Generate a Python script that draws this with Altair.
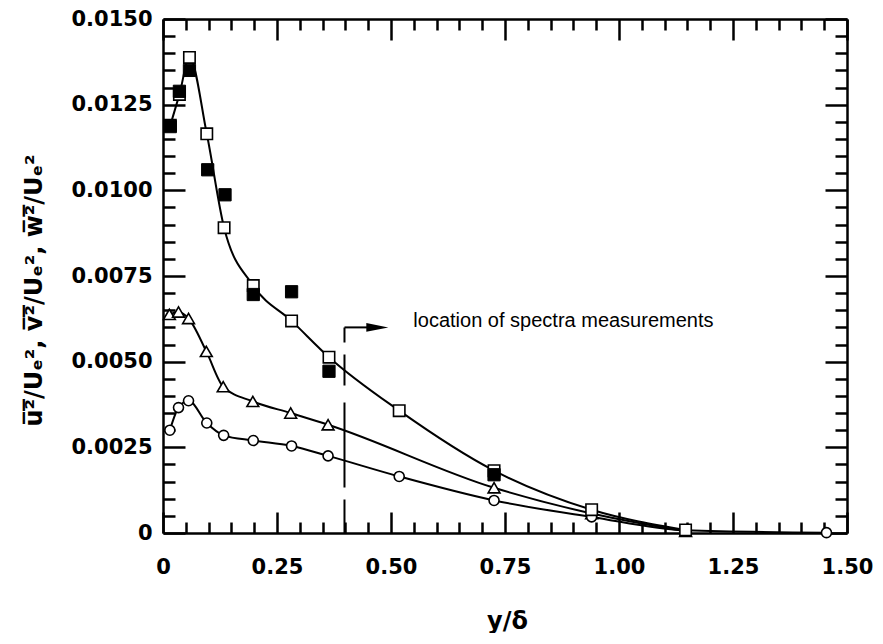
import altair as alt
import pandas as pd

# ---------------- data ----------------
# u'^2 / Ue^2  (open squares, curve)
u_open_x = [0.016, 0.036, 0.058, 0.096, 0.134, 0.198, 0.282, 0.364, 0.518, 0.726, 0.940, 1.146]
u_open_y = [0.01190, 0.01280, 0.01388, 0.01165, 0.00891, 0.00722, 0.00619, 0.00513, 0.00357, 0.00182, 0.00068, 0.00009]
# u'^2 / Ue^2  (filled squares)
u_fill_x = [0.016, 0.036, 0.058, 0.098, 0.136, 0.198, 0.282, 0.364, 0.726]
u_fill_y = [0.01186, 0.01289, 0.01350, 0.01060, 0.00987, 0.00696, 0.00704, 0.00472, 0.00170]
# triangles
w_x = [0.014, 0.034, 0.056, 0.095, 0.132, 0.197, 0.280, 0.362, 0.726, 0.940, 1.146]
w_y = [0.00638, 0.00645, 0.00626, 0.00530, 0.00427, 0.00384, 0.00350, 0.00316, 0.00132, 0.00057, 0.00005]
# circles
v_x = [0.015, 0.034, 0.056, 0.096, 0.133, 0.198, 0.282, 0.362, 0.518, 0.726, 0.940, 1.146, 1.455]
v_y = [0.00300, 0.00366, 0.00386, 0.00321, 0.00285, 0.00270, 0.00254, 0.00225, 0.00165, 0.00095, 0.00047, 0.00008, 0.00001]

# annotation
spectra_x = [0.398]
spectra_top = [0.0060]
arrow_end_x = [0.449]
arrow_head_x = [0.470]
note_x = [0.549]
note_text = ["location of spectra measurements"]

# axes
x_domain = [0, 1.5]
y_domain = [0, 0.015]
x_tick_values = [round(i * 0.05, 2) for i in range(31)]
y_tick_values = [round(i * 0.0005, 4) for i in range(31)]
x_title = "y/δ"
y_title = ("u\u0305\u00b2\u0305/U\u2091\u00b2, "
           "v\u0305\u00b2\u0305/U\u2091\u00b2, "
           "w\u0305\u00b2\u0305/U\u2091\u00b2")

# ---------------- tables ----------------
df_u = pd.DataFrame({"x": u_open_x, "y": u_open_y})
df_uf = pd.DataFrame({"x": u_fill_x, "y": u_fill_y})
df_w = pd.DataFrame({"x": w_x, "y": w_y})
df_v = pd.DataFrame({"x": v_x, "y": v_y})
df_dash = pd.DataFrame({"x": spectra_x, "y": spectra_top, "y2": [0.0]})
df_hor = pd.DataFrame({"x": spectra_x, "x2": arrow_end_x, "y": spectra_top})
df_head = pd.DataFrame({"x": arrow_head_x, "y": spectra_top})
df_note = pd.DataFrame({"x": note_x, "y": spectra_top, "t": note_text})

xs = alt.Scale(domain=x_domain, nice=False, zero=False)
ys = alt.Scale(domain=y_domain, nice=False, zero=False)

FONT = "DejaVu Sans"
x_major = "abs(datum.value*4 - round(datum.value*4)) < 0.001"
y_major = "abs(datum.value*400 - round(datum.value*400)) < 0.001"

common = dict(grid=False, domainColor="black", domainWidth=2.5, tickColor="black",
              tickWidth=2.5, labelFlush=False, labelOverlap=False)

x_bottom = alt.Axis(
    orient="bottom", values=x_tick_values,
    tickSize={"condition": {"test": x_major, "value": -21}, "value": -11},
    labelExpr=f"{x_major} ? (datum.value == 0 ? '0' : format(datum.value, '.2f')) : ''",
    labelFont=FONT, labelFontWeight="bold", labelFontSize=21, labelColor="black",
    labelPadding=44, title=x_title, titleFont=FONT, titleFontWeight="bold",
    titleFontSize=24, titleColor="black", titleX=344, titleY=95,
    titleBaseline="alphabetic", titleAlign="center", **common)
y_left = alt.Axis(
    orient="left", values=y_tick_values,
    tickSize={"condition": {"test": y_major, "value": -22}, "value": -12},
    labelExpr=f"{y_major} ? (datum.value == 0 ? '0' : format(datum.value, '.4f')) : ''",
    labelFont=FONT, labelFontWeight="bold", labelFontSize=21, labelColor="black",
    labelPadding=33, labelBaseline="middle", title=y_title, titleFont=FONT,
    titleFontWeight="bold", titleFontSize=24, titleColor="black", titleAngle=270,
    titleX=-129, titleY=271, titleBaseline="middle", titleAlign="center", **common)
x_top = alt.Axis(
    orient="top", values=x_tick_values,
    tickSize={"condition": {"test": x_major, "value": -21}, "value": -11},
    labels=False, title=None, **common)
y_right = alt.Axis(
    orient="right", values=y_tick_values,
    tickSize={"condition": {"test": y_major, "value": -22}, "value": -12},
    labels=False, title=None, **common)


def enc(axx=None, axy=None):
    return dict(
        x=alt.X("x:Q", scale=xs, axis=axx),
        y=alt.Y("y:Q", scale=ys, axis=axy),
    )


line_v = alt.Chart(df_v).mark_line(interpolate="monotone", color="black", strokeWidth=2).encode(
    **enc(x_bottom, y_left))
line_u = alt.Chart(df_u).mark_line(interpolate="monotone", color="black", strokeWidth=2).encode(
    **enc(x_top, y_right))
line_w = alt.Chart(df_w).mark_line(interpolate="monotone", color="black", strokeWidth=2).encode(**enc())

pt_u = alt.Chart(df_u).mark_point(shape="square", filled=True, fill="white", stroke="black",
                                  strokeWidth=1.6, size=130, opacity=1).encode(**enc())
pt_uf = alt.Chart(df_uf).mark_point(shape="square", filled=True, fill="black", stroke="black",
                                    strokeWidth=1, size=150, opacity=1).encode(**enc())
pt_w = alt.Chart(df_w).mark_point(shape="triangle-up", filled=True, fill="white", stroke="black",
                                  strokeWidth=1.6, size=140, opacity=1).encode(**enc())
pt_v = alt.Chart(df_v).mark_point(shape="circle", filled=True, fill="white", stroke="black",
                                  strokeWidth=1.6, size=100, opacity=1).encode(**enc())

dash = alt.Chart(df_dash).mark_rule(color="black", strokeWidth=2,
                                    strokeDash=[15, 12, 31, 17, 85, 12, 36]).encode(
    x=alt.X("x:Q", scale=xs, axis=None), y=alt.Y("y:Q", scale=ys, axis=None), y2="y2:Q")
hor = alt.Chart(df_hor).mark_rule(color="black", strokeWidth=2).encode(
    x=alt.X("x:Q", scale=xs, axis=None), x2="x2:Q", y=alt.Y("y:Q", scale=ys, axis=None))
head = alt.Chart(df_head).mark_point(shape="M-1,-0.4L1,0L-1,0.4Z", filled=True, color="black",
                                     size=484, opacity=1).encode(**enc())
note = alt.Chart(df_note).mark_text(align="left", baseline="alphabetic", font="Liberation Sans",
                                    fontSize=20, color="black").encode(
    x=alt.X("x:Q", scale=xs, axis=None), y=alt.Y("y:Q", scale=ys, axis=None), text="t:N")

chart = alt.layer(
    line_v, line_u, line_w, dash, hor, head, note, pt_w, pt_v, pt_u, pt_uf
).resolve_axis(x="independent", y="independent").properties(
    width=684, height=514,
    autosize=alt.AutoSizeParams(type="none"),
    padding={"left": 155, "top": 11, "right": 28, "bottom": 100},
    background="white",
).configure_view(stroke=None)

chart.save("out.html", embed_options={"renderer": "svg", "actions": False})
